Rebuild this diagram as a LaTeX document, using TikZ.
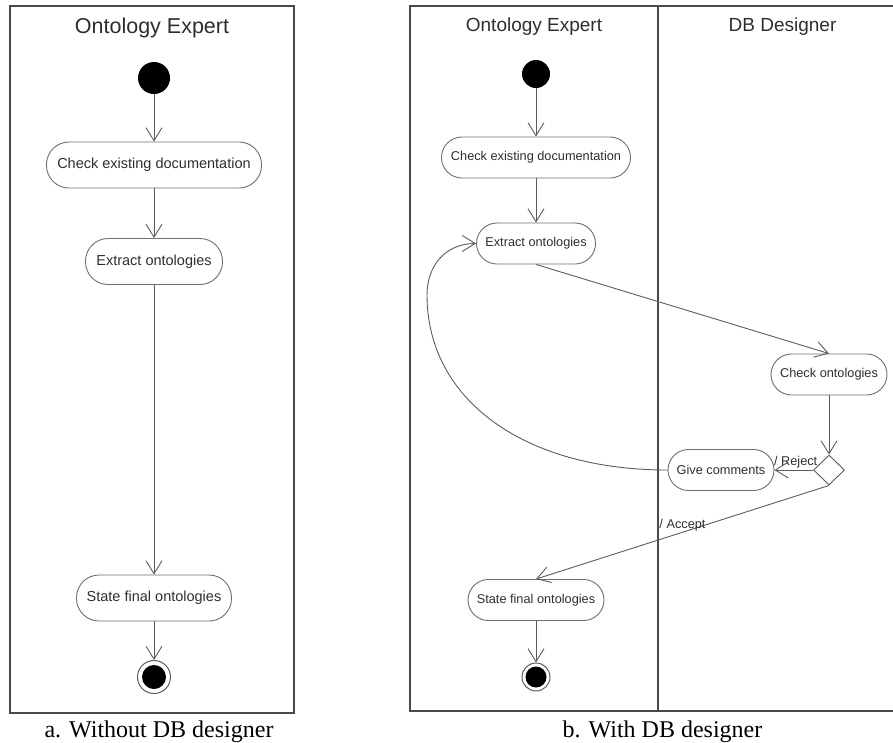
\documentclass[tikz,border=0pt]{standalone}
\usepackage{fontspec}
\setmainfont{Liberation Serif}
\setsansfont{Liberation Sans}
\usetikzlibrary{arrows.meta,shapes.geometric}

\definecolor{lineclr}{HTML}{5C5C5C}
\definecolor{laneclr}{HTML}{4A4A4A}
\definecolor{boxclr}{HTML}{6E6E6E}
\definecolor{txtclr}{HTML}{2E2E2E}

\begin{document}
\begin{tikzpicture}[x=1pt,y=-1pt,
  lane/.style={draw=laneclr,line width=1.8pt},
  lanetitle/.style={anchor=base,text=txtclr,inner sep=0pt},
  actL/.style={draw=boxclr,line width=0.9pt,rounded corners=22.5pt,minimum height=46pt,
    inner sep=0pt,text=txtclr,font=\sffamily\fontsize{14.5}{17}\selectfont},
  actR/.style={draw=boxclr,line width=0.9pt,rounded corners=20.5pt,minimum height=41pt,
    inner sep=0pt,text=txtclr,font=\sffamily\fontsize{12.75}{15}\selectfont},
  startdot/.style={circle,fill=black,inner sep=0pt},
  enddot/.style={circle,draw=lineclr,line width=1pt,fill=white,inner sep=0pt},
  decision/.style={diamond,draw=lineclr,line width=0.9pt,inner sep=0pt,aspect=1,
    minimum width=31pt,minimum height=30pt},
  flow/.style={draw=lineclr,line width=0.9pt,
    -{Straight Barb[length=13pt,width=16pt,line width=0.9pt]}},
  guard/.style={text=txtclr,inner sep=1pt,font=\sffamily\fontsize{12.75}{15}\selectfont},
  caption/.style={anchor=base,text=black,inner sep=0pt,font=\rmfamily\fontsize{24}{28}\selectfont}
]
\useasboundingbox (0,0) rectangle (893,742);

% ---------- a. single swimlane ----------
\draw[lane] (10,6) rectangle (294,713);
\node[lanetitle,font=\sffamily\fontsize{21.5}{25}\selectfont] (tL) at (152,33) {Ontology Expert};

\node[startdot,minimum size=32pt] (sL) at (154,78) {};
\node[actL,minimum width=215pt] (cL) at (154,165) {Check existing documentation};
\node[actL,minimum width=137pt] (eL) at (154,261.5) {Extract ontologies};
\node[actL,minimum width=155pt] (fL) at (154,598) {State final ontologies};
\node[enddot,minimum size=33pt] (zL) at (154,677) {};
\fill (zL.center) circle (12pt);

\draw[flow] (sL.south) -- (cL.north);
\draw[flow] (cL.south) -- (eL.north);
\draw[flow] (eL.south) -- (fL.north);
\draw[flow] (fL.south) -- (zL.north);

\node[caption] (capL) at (159,737) {a. Without DB designer};

% ---------- b. two swimlanes ----------
\draw[lane] (895,6) -- (410,6) -- (410,711) -- (895,711);
\draw[lane] (658,6) -- (658,711);
\node[lanetitle,font=\sffamily\fontsize{19}{23}\selectfont] (tR1) at (534,31) {Ontology Expert};
\node[lanetitle,font=\sffamily\fontsize{19}{23}\selectfont] (tR2) at (782.5,31) {DB Designer};

\node[startdot,minimum size=28pt] (sR) at (536,74) {};
\node[actR,minimum width=189pt] (cR) at (536,157.5) {Check existing documentation};
\node[actR,minimum width=119pt] (eR) at (536,243.5) {Extract ontologies};
\node[actR,minimum width=116pt] (kR) at (829,374.5) {Check ontologies};
\node[decision] (dR) at (829,470) {};
\node[actR,minimum width=106pt] (gR) at (721,470) {Give comments};
\node[actR,minimum width=136pt] (fR) at (536,600) {State final ontologies};
\node[enddot,minimum size=28pt] (zR) at (536,677) {};
\fill (zR.center) circle (10.5pt);

\coordinate (loopL) at (427,295);

\draw[flow] (sR.south) -- (cR.north);
\draw[flow] (cR.south) -- (eR.north);
\draw[flow] (eR.south) -- (kR.north);
\draw[flow] (kR.south) -- (dR.north);
\draw[flow] (dR.west) -- node[guard,above,pos=0.45] {/ Reject} (gR.east);
\draw[flow] (dR.south) -- node[guard,above,pos=0.5] {/ Accept} (fR.north);
\draw[flow] (gR.west) .. controls (523,470) and (427,399) .. (loopL)
  .. controls (427,264) and (447,243.5) .. (eR.west);
\draw[flow] (fR.south) -- (zR.north);

\node[caption] (capR) at (662.5,737) {b. With DB designer};
\end{tikzpicture}
\end{document}
